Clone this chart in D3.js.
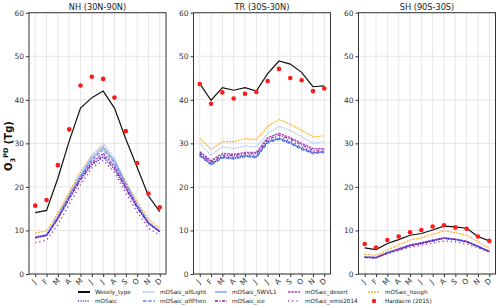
<!DOCTYPE html>
<html>
<head>
<meta charset="utf-8">
<script src="https://cdn.jsdelivr.net/npm/d3@7"></script>
<style>
  body { margin: 0; background: #fff; }
  svg { font-family: "DejaVu Sans", sans-serif; }
</style>
</head>
<body>
<script>
//------------------------------ Data ------------------------------//
var months = ["J", "F", "M", "A", "M", "J", "J", "A", "S", "O", "N", "D"];
var regionTitles = ["NH (30N-90N)", "TR (30S-30N)", "SH (90S-30S)"];
var yTicks = [0, 10, 20, 30, 40, 50, 60];

var seriesNames = ["Wesely_type", "mOSaic", "mOSaic_offLight", "mOSaic_offPhen", "mOSaic_SWVL1",
  "mOSaic_ice", "mOSaic_desert", "mOSaic_emis2014", "mOSaic_hough"];

// one row per series, in the order of seriesNames
var nhValues = [
  [14.1, 14.6, 22.0, 30.5, 38.1, 40.5, 42.0, 38.1, 31.0, 24.5, 17.9, 14.3],
  [8.3, 8.8, 12.6, 17.2, 21.5, 25.0, 26.8, 24.0, 19.5, 15.2, 11.5, 9.7],
  [8.6, 9.1, 13.4, 18.4, 23.0, 27.2, 30.0, 26.6, 21.1, 16.1, 12.0, 9.9],
  [8.4, 8.9, 13.0, 17.8, 22.3, 26.2, 28.5, 25.5, 20.5, 15.7, 11.8, 9.8],
  [8.5, 9.0, 13.2, 18.0, 22.6, 26.6, 29.1, 25.9, 20.7, 15.9, 11.9, 9.8],
  [8.3, 8.8, 12.7, 17.3, 21.7, 25.3, 27.1, 24.3, 19.7, 15.3, 11.6, 9.7],
  [8.4, 8.9, 12.9, 17.6, 22.0, 25.7, 27.7, 24.8, 20.0, 15.5, 11.7, 9.8],
  [7.2, 7.8, 11.3, 16.0, 20.5, 24.3, 26.1, 23.3, 18.6, 14.2, 10.5, 8.9],
  [9.4, 9.9, 14.0, 18.8, 23.5, 27.3, 29.4, 26.0, 21.2, 16.6, 12.6, 10.5]
];
var trValues = [
  [43.7, 39.9, 42.8, 42.2, 42.8, 42.0, 46.0, 48.9, 48.2, 46.3, 43.0, 43.2],
  [27.3, 25.2, 26.8, 26.5, 27.1, 26.8, 30.3, 31.1, 30.1, 28.8, 27.8, 28.1],
  [30.0, 27.3, 29.2, 28.8, 29.4, 29.2, 32.3, 33.9, 33.0, 31.5, 30.0, 30.4],
  [27.1, 25.0, 26.6, 26.4, 26.9, 26.7, 30.1, 30.9, 29.9, 28.6, 27.6, 27.9],
  [27.4, 25.3, 26.9, 26.7, 27.2, 27.0, 30.4, 31.2, 30.2, 28.9, 27.9, 28.1],
  [27.8, 25.7, 27.3, 27.2, 27.6, 27.6, 30.9, 31.9, 31.0, 29.6, 28.4, 28.5],
  [28.1, 26.0, 27.7, 27.5, 27.9, 27.9, 31.3, 32.3, 31.3, 30.0, 28.8, 28.8],
  [27.5, 25.4, 27.0, 26.9, 27.3, 27.3, 30.6, 31.5, 30.6, 29.2, 28.0, 28.2],
  [31.1, 28.6, 30.4, 30.4, 31.1, 30.9, 33.9, 35.5, 34.4, 33.0, 31.5, 31.7]
];
var shValues = [
  [6.0, 5.6, 7.0, 7.9, 8.9, 9.3, 10.1, 11.0, 10.8, 10.5, 8.6, 7.6],
  [3.8, 3.7, 4.8, 5.6, 6.5, 7.0, 7.6, 8.2, 7.9, 7.4, 6.3, 5.1],
  [3.9, 3.8, 4.9, 5.7, 6.6, 7.1, 7.7, 8.3, 8.0, 7.5, 6.4, 5.2],
  [3.8, 3.7, 4.8, 5.6, 6.5, 7.0, 7.6, 8.2, 7.9, 7.4, 6.3, 5.1],
  [3.9, 3.8, 4.9, 5.7, 6.6, 7.1, 7.7, 8.3, 8.0, 7.5, 6.4, 5.2],
  [3.8, 3.7, 4.8, 5.6, 6.5, 7.0, 7.6, 8.2, 7.9, 7.4, 6.3, 5.1],
  [3.9, 3.8, 4.9, 5.8, 6.7, 7.2, 7.8, 8.3, 8.0, 7.5, 6.4, 5.2],
  [3.9, 3.8, 4.7, 5.4, 6.1, 6.6, 7.1, 7.6, 7.4, 6.9, 6.0, 5.1],
  [4.5, 4.3, 5.5, 6.7, 7.8, 8.3, 9.1, 9.9, 9.5, 8.9, 7.4, 5.9]
];
var hardacreNH = [15.7, 17.0, 25.0, 33.2, 43.3, 45.3, 44.8, 40.5, 32.8, 25.5, 18.5, 15.3];
var hardacreTR = [43.6, 39.1, 41.7, 40.3, 41.4, 41.8, 44.3, 47.1, 45.0, 44.5, 42.0, 42.6];
var hardacreSH = [6.9, 6.1, 7.8, 8.6, 9.6, 10.1, 10.9, 11.2, 10.7, 10.4, 8.6, 7.6];

//------------------------------ Styles ------------------------------//
var styles = {
  "Wesely_type":     { color: "#111111", width: 1.2, dash: null },
  "mOSaic":          { color: "#2f2fe0", width: 1.3, dash: "1,1.4" },
  "mOSaic_offLight": { color: "#a9c4f2", width: 1.1, dash: "1.6,0.8" },
  "mOSaic_offPhen":  { color: "#5a8ae8", width: 1.1, dash: "3.5,1.8" },
  "mOSaic_SWVL1":    { color: "#8fb0ec", width: 1.4, dash: null },
  "mOSaic_ice":      { color: "#8a1f8a", width: 1.1, dash: "3,1.5,1,1.5" },
  "mOSaic_desert":   { color: "#a64cc4", width: 1.4, dash: "2.5,0.8" },
  "mOSaic_emis2014": { color: "#9b3fc0", width: 1.4, dash: "1.2,3" },
  "mOSaic_hough":    { color: "#ffb02e", width: 1.2, dash: "2,1" }
};

var width = 500, height = 308;
var plotTop = 12.7, plotBottom = 274;
var panelLefts = [29, 193.5, 358.5], panelWidth = 137;

var svg = d3.select("body").append("svg")
  .attr("width", width).attr("height", height);

var y = d3.scaleLinear().domain([0, 60]).range([plotBottom, plotTop]);

var allValues = [nhValues, trValues, shValues];
var allHardacre = [hardacreNH, hardacreTR, hardacreSH];

//------------------------------ Panels ------------------------------//
regionTitles.forEach(function (title, p) {
  var x = d3.scaleLinear().domain([-0.55, 11.55])
    .range([panelLefts[p], panelLefts[p] + panelWidth]);
  var g = svg.append("g");

  // grid
  g.selectAll(".vgrid").data(months).enter().append("line")
    .attr("x1", function (d, i) { return x(i); })
    .attr("x2", function (d, i) { return x(i); })
    .attr("y1", plotTop).attr("y2", plotBottom)
    .attr("stroke", "#e6e6e6").attr("stroke-width", 1);
  g.selectAll(".hgrid").data(yTicks).enter().append("line")
    .attr("x1", x.range()[0]).attr("x2", x.range()[1])
    .attr("y1", function (d) { return y(d); })
    .attr("y2", function (d) { return y(d); })
    .attr("stroke", "#e6e6e6").attr("stroke-width", 1);

  // model lines
  var line = d3.line()
    .x(function (d, i) { return x(i); })
    .y(function (d) { return y(d); });

  var order = [8, 2, 4, 3, 6, 5, 7, 1, 0];
  order.forEach(function (s) {
    var st = styles[seriesNames[s]];
    g.append("path")
      .datum(allValues[p][s])
      .attr("d", line)
      .attr("fill", "none")
      .attr("stroke", st.color)
      .attr("stroke-width", st.width)
      .attr("stroke-dasharray", st.dash);
  });

  // Hardacre points
  g.selectAll(".dot").data(allHardacre[p]).enter().append("circle")
    .attr("cx", function (d, i) { return x(i); })
    .attr("cy", function (d) { return y(d); })
    .attr("r", 2.3)
    .attr("fill", "#ff1a1a");

  // frame
  g.append("rect")
    .attr("x", x.range()[0]).attr("y", plotTop)
    .attr("width", panelWidth).attr("height", plotBottom - plotTop)
    .attr("fill", "none").attr("stroke", "#333").attr("stroke-width", 1);

  // y axis
  var yAxis = g.append("g")
    .attr("transform", "translate(" + x.range()[0] + ",0)")
    .call(d3.axisLeft(y).tickValues(yTicks).tickSize(3).tickPadding(2));
  yAxis.select(".domain").remove();
  yAxis.selectAll("text").attr("font-size", 7.5).attr("fill", "#333")
    .attr("font-family", "DejaVu Sans");
  yAxis.selectAll("line").attr("stroke", "#333");

  // x axis
  var xAxis = g.append("g")
    .attr("transform", "translate(0," + plotBottom + ")")
    .call(d3.axisBottom(x).tickValues(d3.range(12)).tickSize(3)
      .tickFormat(function (i) { return months[i]; }));
  xAxis.select(".domain").remove();
  xAxis.selectAll("line").attr("stroke", "#333");
  xAxis.selectAll("text")
    .attr("font-size", 7.5).attr("fill", "#333")
    .attr("font-family", "DejaVu Sans")
    .attr("text-anchor", "middle")
    .attr("dy", null).attr("y", 0)
    .attr("transform", "translate(0,9.5) rotate(-45)");

  // title
  g.append("text")
    .attr("x", x.range()[0] + panelWidth / 2).attr("y", 9.5)
    .attr("text-anchor", "middle")
    .attr("font-size", 8.2).attr("fill", "#222")
    .text(title);
});

// y label
var ylab = svg.append("text")
  .attr("transform", "translate(12,146) rotate(-90)")
  .attr("text-anchor", "middle")
  .attr("font-size", 10).attr("font-weight", "bold").attr("fill", "#111");
ylab.append("tspan").text("O");
ylab.append("tspan").attr("font-size", 6.5).attr("dy", 2.5).text("3");
ylab.append("tspan").attr("font-size", 6.5).attr("dy", -6.5).text("PD");
ylab.append("tspan").attr("dy", 4).text(" (Tg)");

//------------------------------ Legend ------------------------------//
var legendItems = seriesNames.concat(["Hardacre (2015)"]);
var colX = [78, 143, 215, 288, 368], rowY = [292, 301];

legendItems.forEach(function (name, i) {
  var cx = colX[Math.floor(i / 2)], cy = rowY[i % 2];
  var lg = svg.append("g");
  if (name === "Hardacre (2015)") {
    lg.append("circle").attr("cx", cx + 6).attr("cy", cy).attr("r", 2.2).attr("fill", "#ff1a1a");
  } else {
    var st = styles[name];
    lg.append("line")
      .attr("x1", cx).attr("x2", cx + 12).attr("y1", cy).attr("y2", cy)
      .attr("stroke", st.color)
      .attr("stroke-width", name === "Wesely_type" ? 2 : st.width + 0.3)
      .attr("stroke-dasharray", st.dash);
  }
  lg.append("text")
    .attr("x", cx + 17).attr("y", cy + 2.2)
    .attr("font-size", 5.7).attr("fill", "#222")
    .text(name);
});
</script>
</body>
</html>
